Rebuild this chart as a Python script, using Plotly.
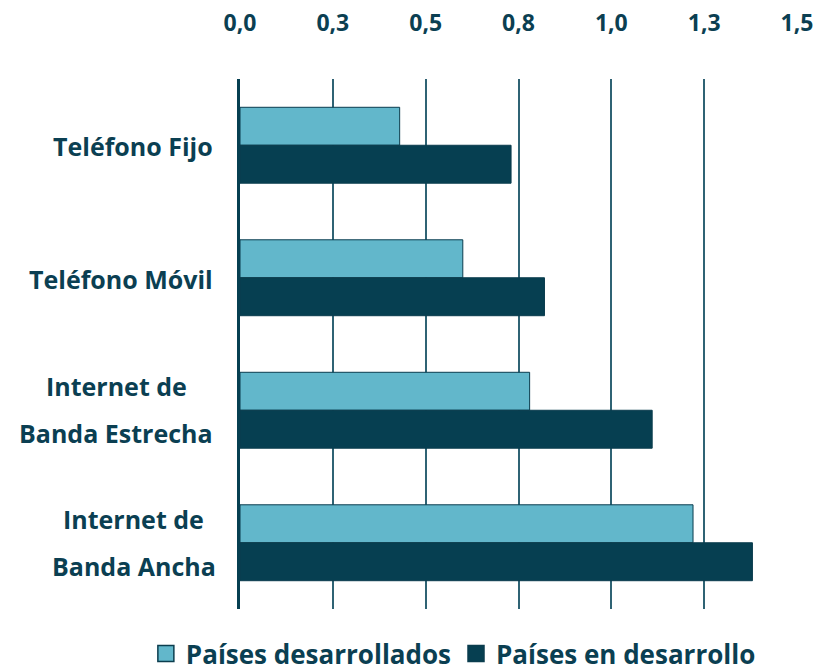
import plotly.graph_objects as go

categories = ["Teléfono Fijo", "Teléfono Móvil", "Internet de Banda Estrecha", "Internet de Banda Ancha"]
label_lines = [["Teléfono Fijo"], ["Teléfono Móvil"], ["Internet de", "Banda Estrecha"], ["Internet de", "Banda Ancha"]]
desarrollados = [0.43, 0.60, 0.78, 1.22]
en_desarrollo = [0.73, 0.82, 1.11, 1.38]
tick_vals = [0.0, 0.25, 0.5, 0.75, 1.0, 1.25, 1.5]
tick_text = ["0,0", "0,3", "0,5", "0,8", "1,0", "1,3", "1,5"]
series_names = ["Países desarrollados", "Países en desarrollo"]

LIGHT = "#62B7CB"
DARK = "#063F51"
TEXT = "#0B3F52"
FONT = "Open Sans"

fig = go.Figure()
for name, vals, col in [(series_names[0], desarrollados, LIGHT), (series_names[1], en_desarrollo, DARK)]:
    fig.add_trace(go.Bar(
        y=categories, x=vals, orientation="h", name=name,
        marker=dict(color=col, line=dict(color="#0B3D4E", width=1)),
        showlegend=False,
    ))
    fig.add_trace(go.Scatter(
        x=[None], y=[None], mode="markers", name=name,
        marker=dict(symbol="square", size=18, color=col, line=dict(color="#0B3D4E", width=1.5)),
    ))

LABEL_SIZE = 25
# horizontal centre (paper units) used for two-line labels
two_line_centre = {"Internet de Banda Estrecha": -0.222, "Internet de Banda Ancha": -0.191}
annotations = []
for cat, lines in zip(categories, label_lines):
    lf = dict(family=FONT, size=LABEL_SIZE, color=TEXT, weight="bold")
    if len(lines) == 1:
        annotations.append(dict(
            x=-0.0446, xref="paper", y=cat, yref="y", xanchor="right", yanchor="middle",
            text=lines[0], showarrow=False, yshift=-1, font=lf,
        ))
    else:
        for t, ys in [(lines[0], 24), (lines[1], -23)]:
            annotations.append(dict(
                x=two_line_centre[cat], xref="paper", y=cat, yref="y",
                xanchor="center", yanchor="middle",
                text=t, showarrow=False, yshift=ys, font=lf,
            ))

fig.update_layout(
    width=836, height=670,
    margin=dict(l=240, r=39, t=79, b=61, autoexpand=False),
    paper_bgcolor="white", plot_bgcolor="white",
    barmode="group", bargap=0.427, bargroupgap=0,
    font=dict(family=FONT, color=TEXT),
    showlegend=True,
    legend=dict(orientation="h", x=-0.169, xanchor="left", y=-0.084, yanchor="middle",
                font=dict(family=FONT, size=26, color=TEXT, weight="bold"),
                itemwidth=30, tracegroupgap=0, bgcolor="rgba(0,0,0,0)"),
    annotations=annotations,
    xaxis=dict(
        side="top", range=[0, 1.5], tickvals=tick_vals, ticktext=tick_text,
        showgrid=True, gridcolor="#2F6374", gridwidth=1.5, zeroline=False,
        showline=False, ticks="", ticklabelstandoff=42,
        tickfont=dict(family=FONT, size=23, color=TEXT, weight="bold"),
        fixedrange=True,
    ),
    yaxis=dict(
        categoryorder="array", categoryarray=categories, autorange="reversed",
        showticklabels=False, showgrid=False, zeroline=False,
        showline=True, linecolor=DARK, linewidth=3, ticks="",
        fixedrange=True,
    ),
)

fig.write_html(
    "out.html",
    config={"displayModeBar": False},
    post_script="document.body.style.margin='0';document.body.style.overflow='hidden';",
)
